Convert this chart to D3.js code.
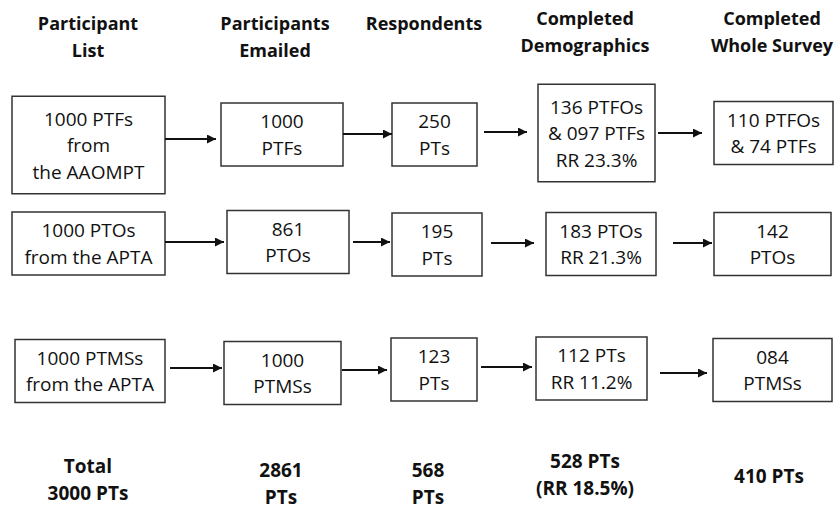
<!DOCTYPE html>
<html>
<head>
<meta charset="utf-8">
<script src="https://cdn.jsdelivr.net/npm/d3@7"></script>
<style>
  html, body { margin: 0; padding: 0; background: #fff; }
  svg { display: block; }
</style>
</head>
<body>
<svg id="chart" width="835" height="508"></svg>
<script>
// ---------- DATA ----------
const stages = ["list", "emailed", "respondents", "demographics", "whole"];
const headers = [
  ["Participant", "List"],
  ["Participants", "Emailed"],
  ["Respondents"],
  ["Completed", "Demographics"],
  ["Completed", "Whole Survey"]
];
const groups = ["PTF", "PTO", "PTMS"];
const rowPTF = [
  ["1000 PTFs", "from", "the AAOMPT"],
  ["1000", "PTFs"],
  ["250", "PTs"],
  ["136 PTFOs", "& 097 PTFs", "RR 23.3%"],
  ["110 PTFOs", "& 74 PTFs"]
];
const rowPTO = [
  ["1000 PTOs", "from the APTA"],
  ["861", "PTOs"],
  ["195", "PTs"],
  ["183 PTOs", "RR 21.3%"],
  ["142", "PTOs"]
];
const rowPTMS = [
  ["1000 PTMSs", "from the APTA"],
  ["1000", "PTMSs"],
  ["123", "PTs"],
  ["112 PTs", "RR 11.2%"],
  ["084", "PTMSs"]
];
const totals = [
  ["Total", "3000 PTs"],
  ["2861", "PTs"],
  ["568", "PTs"],
  ["528 PTs", "(RR 18.5%)"],
  ["410 PTs"]
];

// ---------- LAYOUT (positions / sizes, kept apart from data) ----------
const W = 835, H = 508;
const colX = d3.scaleOrdinal().domain(stages).range([88.5, 282, 434.5, 596, 773]);
const rowY = d3.scaleOrdinal().domain(groups).range([134.5, 243.5, 370.5]);
// per box: [dx, dy, width]
const boxNudge = [
  [[0, 10.5, 153], [0, 0, 122], [0, 0, 85], [0.5, -1.5, 117], [0.5, -1.5, 119]],
  [[0, 0, 153], [6, -1.5, 122], [2.5, 1, 90], [5, 0.5, 110], [-0.5, 0.5, 117]],
  [[1.5, 0.5, 150], [0.5, 2.5, 117], [-0.5, -1, 86], [-4.5, -2, 111], [-0.5, -0.5, 119]]
];
// per arrow: [startGap, endGap, y]
const arrowNudge = [
  [[0, 5, 139], [0, 0, 134], [7, 11, 132], [3, 12, 133]],
  [[0, 3, 242], [4, 2, 242], [9, 12, 243], [17, 2, 243]],
  [[5, 2, 368], [1, 4, 370], [4, 4, 367], [13, 6, 373]]
];
const lineH = 26.5;
const boxPadV = 18;
const headerX = [88, 275, 424, 585, 772];
const headerY = [30, 30, 30, 25, 25];
const totalX = [88, 281, 428, 585, 769];
const totalY = [473, 477, 477, 468, 483];

const boxFont = "'Open Sans', 'DejaVu Sans', sans-serif";

const svg = d3.select("#chart");
svg.append("rect").attr("width", W).attr("height", H).attr("fill", "#fff");

svg.append("defs").append("marker")
  .attr("id", "arrowhead")
  .attr("viewBox", "0 0 10 10")
  .attr("refX", 10).attr("refY", 5)
  .attr("markerUnits", "userSpaceOnUse")
  .attr("markerWidth", 9).attr("markerHeight", 9)
  .attr("orient", "auto")
  .append("path").attr("d", "M0,0 L10,5 L0,10 Z").attr("fill", "#111");

// headers
headers.forEach((lines, i) => {
  const t = svg.append("text")
    .attr("x", headerX[i]).attr("y", headerY[i])
    .attr("text-anchor", "middle")
    .attr("font-family", boxFont).attr("font-weight", 700)
    .attr("font-size", 18).attr("fill", "#111");
  lines.forEach((l, j) => t.append("tspan").attr("x", headerX[i]).attr("dy", j === 0 ? 0 : 26.5).text(l));
});

// boxes
const rows = [rowPTF, rowPTO, rowPTMS];
const boxes = [];
rows.forEach((row, r) => {
  row.forEach((lines, c) => {
    const [dx, dy, w] = boxNudge[r][c];
    const cx = colX(stages[c]) + dx;
    const cy = rowY(groups[r]) + dy;
    const h = lines.length * lineH + boxPadV + (lines.length === 3 ? 0 : -8);
    boxes.push({ r, c, lines, cx, cy, w, h, x0: cx - w / 2, x1: cx + w / 2 });
  });
});

const bg = svg.append("g").selectAll("g").data(boxes).join("g");
bg.append("rect")
  .attr("x", d => d.x0).attr("y", d => d.cy - d.h / 2)
  .attr("width", d => d.w).attr("height", d => d.h)
  .attr("fill", "#fff").attr("stroke", "#333").attr("stroke-width", 1.5);
bg.each(function (d) {
  const n = d.lines.length;
  const t = d3.select(this).append("text")
    .attr("text-anchor", "middle")
    .attr("font-family", boxFont).attr("font-size", 19).attr("fill", "#111");
  d.lines.forEach((l, j) => {
    t.append("tspan").attr("x", d.cx)
      .attr("y", d.cy + (j - (n - 1) / 2) * lineH + 7)
      .text(l);
  });
});

// arrows
rows.forEach((row, r) => {
  for (let c = 0; c < row.length - 1; c++) {
    const a = boxes.find(b => b.r === r && b.c === c);
    const b = boxes.find(b => b.r === r && b.c === c + 1);
    const [g0, g1, y] = arrowNudge[r][c];
    svg.append("line")
      .attr("x1", a.x1 + g0).attr("x2", b.x0 - g1)
      .attr("y1", y).attr("y2", y)
      .attr("stroke", "#111").attr("stroke-width", 2)
      .attr("marker-end", "url(#arrowhead)");
  }
});

// totals
totals.forEach((lines, i) => {
  const t = svg.append("text")
    .attr("x", totalX[i]).attr("y", totalY[i])
    .attr("text-anchor", "middle")
    .attr("font-family", boxFont).attr("font-weight", 700)
    .attr("font-size", 19).attr("fill", "#111");
  lines.forEach((l, j) => t.append("tspan").attr("x", totalX[i]).attr("dy", j === 0 ? 0 : 26.5).text(l));
});
</script>
</body>
</html>
